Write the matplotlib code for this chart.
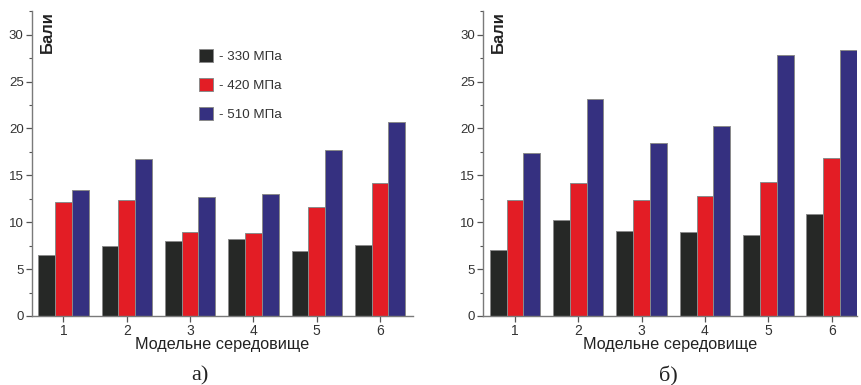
import numpy as np
import matplotlib
matplotlib.use("Agg")
import matplotlib.pyplot as plt
from matplotlib.ticker import MultipleLocator

groups = [1, 2, 3, 4, 5, 6]
series = ["- 330 МПа", "- 420 МПа", "- 510 МПа"]

# panel а)
a_330 = [6.5, 7.5, 8.0, 8.2, 6.9, 7.6]
a_420 = [12.2, 12.4, 9.0, 8.9, 11.6, 14.2]
a_510 = [13.4, 16.7, 12.7, 13.0, 17.7, 20.7]

# panel б)
b_330 = [7.0, 10.2, 9.1, 9.0, 8.6, 10.9]
b_420 = [12.4, 14.2, 12.4, 12.8, 14.3, 16.8]
b_510 = [17.4, 23.1, 18.4, 20.3, 27.8, 28.4]

colors = ["#262826", "#e31d25", "#353080"]
W, H = 861, 385

plt.rcParams["font.family"] = ["Liberation Sans", "DejaVu Sans"]

fig = plt.figure(figsize=(W / 100, H / 100), dpi=100)


def px_axes(x0, x1, y_top, y_bot):
    return fig.add_axes([x0 / W, 1 - y_bot / H, (x1 - x0) / W, (y_bot - y_top) / H])


def panel(ax, data, xlim, caption, cap_x):
    x = np.array(groups, dtype=float)
    bw = 0.265
    bars = []
    for i, (vals, c) in enumerate(zip(data, colors)):
        b = ax.bar(x + (i - 1) * bw, vals, bw, color=c, edgecolor="#8a8a8a",
                   linewidth=0.7, label=series[i])
        bars.append(b)
    ax.set_xlim(*xlim)
    ax.set_ylim(0, 32.5)
    ax.set_xticks(groups)
    ax.yaxis.set_major_locator(MultipleLocator(5))
    ax.yaxis.set_minor_locator(MultipleLocator(2.5))
    for s in ["top", "right"]:
        ax.spines[s].set_visible(False)
    for s in ["left", "bottom"]:
        ax.spines[s].set_color("#7a7a7a")
        ax.spines[s].set_linewidth(1.0)
    ax.tick_params(axis="both", which="major", length=4, width=0.9, color="#555555",
                   labelsize=9.5, labelcolor="#333333", pad=2)
    ax.tick_params(axis="x", which="major", labelsize=10)
    ax.tick_params(axis="y", which="minor", length=2.5, width=0.8, color="#555555")
    ax.set_xlabel("Модельне середовище", fontsize=11.7, color="#222222", labelpad=-1)
    ax.text(0.02, 1.0, "Бали", transform=ax.transAxes, rotation=90, fontsize=12,
            fontweight="bold", color="#222222", ha="left", va="top")
    fig.text(cap_x / W, 1 - 376 / H, caption, fontsize=16, family="Liberation Serif",
             ha="center", va="center", color="#222222")
    return bars


ax1 = px_axes(32, 413, 11.2, 316)
panel(ax1, [a_330, a_420, a_510], (0.505, 6.52), "а)", 200)
ax1.legend(loc="upper left", bbox_to_anchor=(0.4386, 0.875), frameon=False,
           borderpad=0, borderaxespad=0, handlelength=1.05, handleheight=1.05,
           handletextpad=0.45, labelspacing=1.15, fontsize=9.6,
           labelcolor="#333333")

ax2 = px_axes(483.3, 857, 11.2, 316)
panel(ax2, [b_330, b_420, b_510], (0.5, 6.40), "б)", 668)

fig.savefig("out.png", dpi=100)
